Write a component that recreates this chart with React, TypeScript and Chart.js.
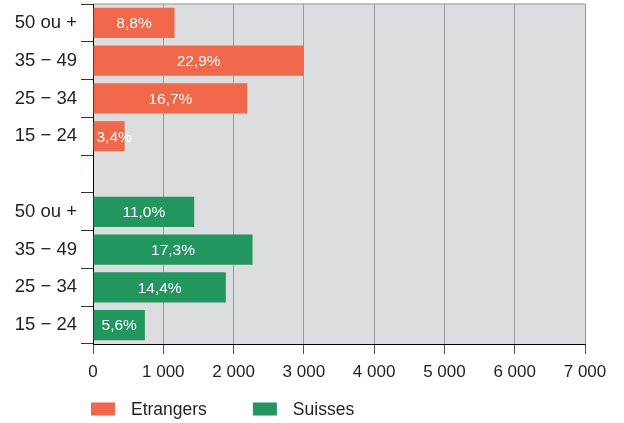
import React, { useEffect, useRef } from "react";
import { Chart, registerables } from "chart.js";

Chart.register(...registerables);

const categories = ["50 ou +", "35 − 49", "25 − 34", "15 − 24", "", "50 ou +", "35 − 49", "25 − 34", "15 − 24"];
const seriesNames = ["Etrangers", "Suisses"];
const etrangersValues = [1160, 3000, 2195, 450, null, null, null, null, null];
const suissesValues = [null, null, null, null, null, 1440, 2270, 1890, 738];
const etrangersLabels = ["8,8%", "22,9%", "16,7%", "3,4%", "", "", "", "", ""];
const suissesLabels = ["", "", "", "", "", "11,0%", "17,3%", "14,4%", "5,6%"];
const xMin = 0;
const xMax = 7000;
const xStep = 1000;

const COLORS = ["#F1674A", "#21965F"];
const FONT = '"Liberation Sans", Arial, sans-serif';
const TEXT = "#231F20";

const fmt = (v: number) => String(v).replace(/\B(?=(\d{3})+(?!\d))/g, " ");

const bgPlugin = {
  id: "plotBg",
  beforeDraw(chart: any) {
    const { ctx, chartArea } = chart;
    ctx.save();
    ctx.fillStyle = "#DCDDDF";
    ctx.fillRect(chartArea.left, chartArea.top, chartArea.right - chartArea.left, chartArea.bottom - chartArea.top);
    ctx.strokeStyle = "#B0B0B0";
    ctx.lineWidth = 1.5;
    ctx.beginPath();
    ctx.moveTo(chartArea.left, chartArea.top);
    ctx.lineTo(chartArea.right, chartArea.top);
    ctx.stroke();
    ctx.restore();
  },
};

const valueLabelPlugin = {
  id: "valueLabels",
  afterDatasetsDraw(chart: any) {
    const { ctx } = chart;
    const allLabels = [etrangersLabels, suissesLabels];
    ctx.save();
    ctx.fillStyle = "#FFFFFF";
    ctx.font = `15.5px ${FONT}`;
    ctx.textAlign = "center";
    ctx.textBaseline = "middle";
    chart.data.datasets.forEach((ds: any, di: number) => {
      const meta = chart.getDatasetMeta(di);
      meta.data.forEach((el: any, i: number) => {
        const txt = allLabels[di][i];
        if (!txt || ds.data[i] == null) return;
        const props = el.getProps(["x", "y", "base"], true);
        const w = ctx.measureText(txt).width;
        const cx = Math.max((props.x + props.base) / 2, props.base + 3 + w / 2);
        ctx.fillText(txt, cx, props.y + 1);
      });
    });
    ctx.restore();
  },
};

const legendPlugin = {
  id: "customLegend",
  afterDraw(chart: any) {
    const { ctx, chartArea } = chart;
    ctx.save();
    ctx.font = `17.5px ${FONT}`;
    ctx.textBaseline = "middle";
    ctx.textAlign = "left";
    let x = chartArea.left - 2;
    const y = chartArea.bottom + 65;
    chart.data.datasets.forEach((ds: any) => {
      ctx.fillStyle = ds.backgroundColor;
      ctx.fillRect(x, y - 6.5, 24, 13);
      ctx.fillStyle = TEXT;
      const tx = x + 40;
      ctx.fillText(ds.label, tx, y + 1);
      x = tx + ctx.measureText(ds.label).width + 46;
    });
    ctx.restore();
  },
};

export default function App() {
  const ref = useRef<HTMLCanvasElement>(null);

  useEffect(() => {
    document.body.style.margin = "0";
    if (!ref.current) return;
    const chart = new Chart(ref.current, {
      type: "bar",
      data: {
        labels: categories,
        datasets: [
          { label: seriesNames[0], data: etrangersValues, backgroundColor: COLORS[0], barPercentage: 0.8, categoryPercentage: 1 },
          { label: seriesNames[1], data: suissesValues, backgroundColor: COLORS[1], barPercentage: 0.8, categoryPercentage: 1 },
        ],
      },
      options: {
        indexAxis: "y",
        animation: false,
        responsive: true,
        maintainAspectRatio: false,
        devicePixelRatio: 1,
        layout: { padding: { top: 4, right: 39, left: 0, bottom: 0 } },
        plugins: {
          legend: { display: false },
          tooltip: { enabled: false },
        },
        scales: {
          x: {
            type: "linear",
            min: xMin,
            max: xMax,
            stacked: true,
            ticks: {
              stepSize: xStep,
              color: TEXT,
              font: { family: FONT, size: 17 },
              padding: 8,
              maxRotation: 0,
              callback: (v: any) => fmt(Number(v)),
            },
            grid: {
              color: "#9A9A9A",
              lineWidth: 1,
              tickLength: 10,
              tickColor: "#555",
            },
            border: { color: "#000", width: 1 },
            afterFit: (s: any) => {
              s.height = 79;
            },
          },
          y: {
            type: "category",
            stacked: true,
            ticks: {
              color: TEXT,
              font: { family: FONT, size: 18.5 },
              padding: 4,
            },
            grid: {
              display: true,
              drawOnChartArea: false,
              drawTicks: true,
              tickLength: 12,
              tickColor: "#333",
              offset: true,
            },
            border: { color: "#000", width: 1 },
            afterFit: (s: any) => {
              s.width = 93;
              s.paddingTop = 0;
              s.paddingBottom = 0;
            },
          },
        },
      },
      plugins: [bgPlugin, valueLabelPlugin, legendPlugin],
    });
    return () => chart.destroy();
  }, []);

  return (
    <div style={{ position: "relative", width: 624, height: 423 }}>
      <canvas ref={ref} />
    </div>
  );
}
